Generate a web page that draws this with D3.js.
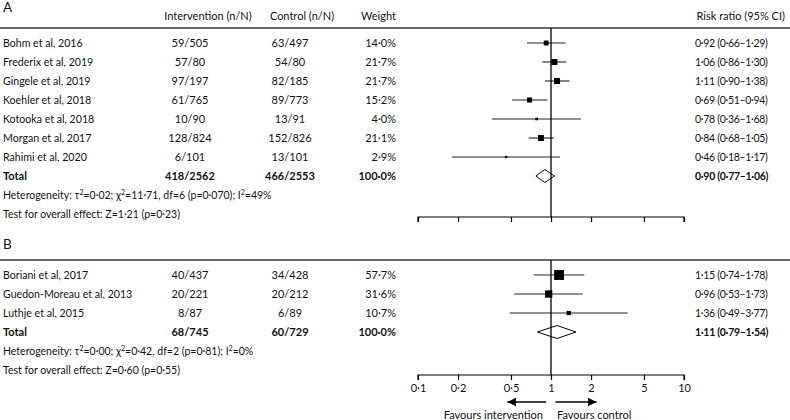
<!DOCTYPE html>
<html><head><meta charset="utf-8">
<script src="https://cdn.jsdelivr.net/npm/d3@7"></script>
<style>
body{margin:0;background:#fff;}
text{font-family:Lato,"Open Sans",sans-serif;fill:#111;}
</style></head>
<body><svg id="c" width="790" height="420"></svg>
<script>
const studiesA = ["Bohm et al, 2016","Frederix et al, 2019","Gingele et al, 2019","Koehler et al, 2018","Kotooka et al, 2018","Morgan et al, 2017","Rahimi et al, 2020"];
const interventionA = ["59/505","57/80","97/197","61/765","10/90","128/824","6/101"];
const controlA = ["63/497","54/80","82/185","89/773","13/91","152/826","13/101"];
const weightA = [14.0,21.7,21.7,15.2,4.0,21.1,2.9];
const rrA = [0.92,1.06,1.11,0.69,0.78,0.84,0.46];
const loA = [0.66,0.86,0.90,0.51,0.36,0.68,0.18];
const hiA = [1.29,1.30,1.38,0.94,1.68,1.05,1.17];
const totalA = {interv:"418/2562", ctrl:"466/2553", weight:100.0, rr:0.90, lo:0.77, hi:1.06};
const hetA = "Heterogeneity: τ²=0·02; χ²=11·71, df=6 (p=0·070); I²=49%";
const testA = "Test for overall effect: Z=1·21 (p=0·23)";

const studiesB = ["Boriani et al, 2017","Guedon-Moreau et al, 2013","Luthje et al, 2015"];
const interventionB = ["40/437","20/221","8/87"];
const controlB = ["34/428","20/212","6/89"];
const weightB = [57.7,31.6,10.7];
const rrB = [1.15,0.96,1.36];
const loB = [0.74,0.53,0.49];
const hiB = [1.78,1.73,3.77];
const totalB = {interv:"68/745", ctrl:"60/729", weight:100.0, rr:1.11, lo:0.79, hi:1.54};
const hetB = "Heterogeneity: τ²=0·00; χ²=0·42, df=2 (p=0·81); I²=0%";
const testB = "Test for overall effect: Z=0·60 (p=0·55)";

const tickValues = [0.1,0.2,0.5,1,2,5,10];

const fmt = v => d3.format(".2f")(v).replace(".", "·");
const fmtW = v => d3.format(".1f")(v).replace(".", "·") + "%";
const fmtT = v => (v===0.1||v===0.2||v===0.5) ? String(v).replace(".", "·") : String(v);

const svg = d3.select("#c");
const x = d3.scaleLog().domain([0.1,10]).range([418,684]);
const FS = 11;
const NS = 10.6;

function supText(sel, str){
  const parts = str.split(/(²)/);
  parts.forEach(p=>{
    if(p==="²") sel.append("tspan").attr("baseline-shift","super").attr("font-size",7).text("2");
    else sel.append("tspan").text(p);
  });
}

function panel(label, top, headerLineY, rowStart, studies, interv, ctrl, weight, rr, lo, hi, total, het, test, axisY, showHeader){
  const g = svg.append("g");
  g.append("text").attr("x",3).attr("y",top).attr("font-size",13.5).text(label);
  if(showHeader){
    const hy = 20;
    g.append("text").attr("x",208).attr("y",hy).attr("text-anchor","middle").attr("font-size",FS).text("Intervention (n/N)");
    g.append("text").attr("x",302).attr("y",hy).attr("text-anchor","middle").attr("font-size",FS).text("Control (n/N)");
    g.append("text").attr("x",396).attr("y",hy).attr("text-anchor","end").attr("font-size",FS).text("Weight");
    g.append("text").attr("x",785).attr("y",hy).attr("text-anchor","end").attr("font-size",FS).text("Risk ratio (95% CI)");
  }
  g.append("line").attr("x1",0).attr("x2",790).attr("y1",headerLineY).attr("y2",headerLineY)
    .attr("stroke","#3a3a3a").attr("stroke-width",1.5);
  const step = 19;
  const yRow = i => rowStart + i*step;
  const n = studies.length;
  const sz = d3.scaleSqrt().domain([0,100]).range([0,13]);
  const rrText = (sel) => sel.attr("x",695).attr("dy","0.35em").attr("font-size",10.5).attr("letter-spacing",-0.3);
  studies.forEach((s,i)=>{
    const y = yRow(i);
    g.append("text").attr("x",3).attr("y",y).attr("dy","0.35em").attr("font-size",NS).text(s);
    g.append("text").attr("x",190).attr("y",y).attr("dy","0.35em").attr("text-anchor","middle").attr("font-size",FS).text(interv[i]);
    g.append("text").attr("x",290).attr("y",y).attr("dy","0.35em").attr("text-anchor","middle").attr("font-size",FS).text(ctrl[i]);
    g.append("text").attr("x",396).attr("y",y).attr("dy","0.35em").attr("text-anchor","end").attr("font-size",FS).text(fmtW(weight[i]));
    g.append("text").attr("y",y).call(rrText).text(`${fmt(rr[i])} (${fmt(lo[i])}–${fmt(hi[i])})`);
    g.append("line").attr("x1",x(lo[i])).attr("x2",x(hi[i])).attr("y1",y).attr("y2",y).attr("stroke","#222").attr("stroke-width",1.1);
    const s2 = Math.max(2, sz(weight[i]));
    g.append("rect").attr("x",x(rr[i])-s2/2).attr("y",y-s2/2).attr("width",s2).attr("height",s2).attr("fill","#000");
  });
  const ty = yRow(n);
  g.append("text").attr("x",3).attr("y",ty).attr("dy","0.35em").attr("font-size",FS).attr("font-weight","bold").text("Total");
  g.append("text").attr("x",190).attr("y",ty).attr("dy","0.35em").attr("text-anchor","middle").attr("font-size",FS).attr("font-weight","bold").text(total.interv);
  g.append("text").attr("x",290).attr("y",ty).attr("dy","0.35em").attr("text-anchor","middle").attr("font-size",FS).attr("font-weight","bold").text(total.ctrl);
  g.append("text").attr("x",396).attr("y",ty).attr("dy","0.35em").attr("text-anchor","end").attr("font-size",FS).attr("font-weight","bold").text(fmtW(total.weight));
  g.append("text").attr("y",ty).call(rrText).attr("font-weight","bold").text(`${fmt(total.rr)} (${fmt(total.lo)}–${fmt(total.hi)})`);
  const dh = 6.5;
  g.append("path").attr("d",`M${x(total.lo)},${ty}L${x(total.rr)},${ty-dh}L${x(total.hi)},${ty}L${x(total.rr)},${ty+dh}Z`)
    .attr("fill","#fff").attr("stroke","#000").attr("stroke-width",1);
  const hetT = g.append("text").attr("x",3).attr("y",yRow(n+1)).attr("dy","0.35em").attr("font-size",10.5);
  supText(hetT, het);
  g.append("text").attr("x",3).attr("y",yRow(n+2)).attr("dy","0.35em").attr("font-size",10.5).text(test);
  g.append("line").attr("x1",x(1)).attr("x2",x(1)).attr("y1",headerLineY).attr("y2",axisY).attr("stroke","#000").attr("stroke-width",1.3);
  const ax = g.append("g").attr("transform",`translate(0,${axisY})`)
    .call(d3.axisBottom(x).tickValues(tickValues).tickFormat(fmtT).tickSize(5).tickPadding(4));
  ax.select(".domain").attr("stroke","#000").attr("stroke-width",1.2).attr("d",`M${x(0.1)},5V0H${x(10)}V5`);
  ax.selectAll(".tick line").attr("stroke","#000").attr("stroke-width",1.2);
  ax.selectAll(".tick text").attr("font-size",FS).attr("font-family","Lato,'Open Sans',sans-serif").attr("fill","#111");
  return ax;
}

const axA = panel("A", 12, 28, 43, studiesA, interventionA, controlA, weightA, rrA, loA, hiA, totalA, hetA, testA, 217, true);
axA.selectAll(".tick text").remove();
panel("B", 249, 260, 275, studiesB, interventionB, controlB, weightB, rrB, loB, hiB, totalB, hetB, testB, 375, false);

const ay = 402;
const defs = svg.append("defs");
defs.append("marker").attr("id","ah").attr("viewBox","0 0 10 10").attr("refX",10).attr("refY",5)
  .attr("markerWidth",9).attr("markerHeight",9).attr("markerUnits","userSpaceOnUse").attr("orient","auto")
  .append("path").attr("d","M0,0L10,5L0,10Z").attr("fill","#000");
svg.append("line").attr("x1",x(0.92)).attr("x2",x(0.47)).attr("y1",ay).attr("y2",ay).attr("stroke","#000").attr("stroke-width",1.6).attr("marker-end","url(#ah)");
svg.append("line").attr("x1",x(1.08)).attr("x2",x(2.2)).attr("y1",ay).attr("y2",ay).attr("stroke","#000").attr("stroke-width",1.6).attr("marker-end","url(#ah)");
svg.append("text").attr("x",543).attr("y",419).attr("text-anchor","end").attr("font-size",FS).text("Favours intervention");
svg.append("text").attr("x",557).attr("y",419).attr("font-size",FS).text("Favours control");
</script></body></html>
